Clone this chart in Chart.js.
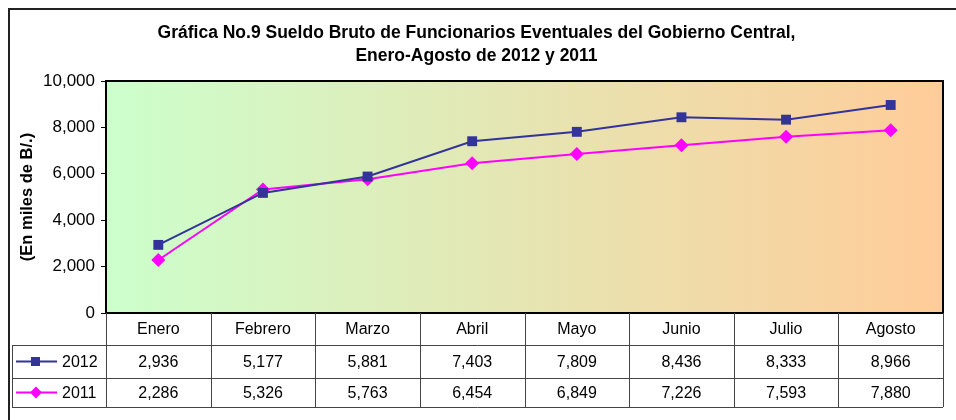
<!DOCTYPE html>
<html>
<head>
<meta charset="utf-8">
<script src="https://cdn.jsdelivr.net/npm/chart.js@4.4.1/dist/chart.umd.min.js"></script>
<style>
html,body{margin:0;padding:0;background:#fff;}
#wrap{width:956px;height:420px;position:relative;}
</style>
</head>
<body>
<div id="wrap"><canvas id="c" width="956" height="420"></canvas></div>
<script>
const categories = ['Enero','Febrero','Marzo','Abril','Mayo','Junio','Julio','Agosto'];
const values2012 = [2936,5177,5881,7403,7809,8436,8333,8966];
const values2011 = [2286,5326,5763,6454,6849,7226,7593,7880];
const seriesNames = ['2012','2011'];
const yTicks = [0,2000,4000,6000,8000,10000];
const titleLines = ['Gráfica No.9 Sueldo Bruto de Funcionarios Eventuales del Gobierno Central,','Enero-Agosto de 2012 y 2011'];
const yTitle = '(En miles de B/.)';

const FONT = "'Liberation Sans', Arial, sans-serif";
const COL2012 = '#333399';
const COL2011 = '#ff00ff';
const fmt = v => v.toLocaleString('en-US');

const framePlugin = {
  id: 'frame',
  beforeDraw(chart) {
    const ctx = chart.ctx, a = chart.chartArea;
    ctx.save();
    ctx.strokeStyle = '#222';
    ctx.lineWidth = 2;
    ctx.beginPath();
    ctx.moveTo(9, 420); ctx.lineTo(9, 9); ctx.lineTo(956, 9);
    ctx.stroke();
    const g = ctx.createLinearGradient(a.left, 0, a.right, 0);
    g.addColorStop(0, '#ccffcc');
    g.addColorStop(1, '#ffcc99');
    ctx.fillStyle = g;
    ctx.fillRect(a.left, a.top, a.right - a.left, a.bottom - a.top);
    ctx.restore();
  },
  beforeDatasetsDraw(chart) {
    const ctx = chart.ctx, a = chart.chartArea;
    ctx.save();
    ctx.strokeStyle = '#000';
    ctx.lineWidth = 2;
    ctx.strokeRect(a.left, a.top, a.right - a.left, a.bottom - a.top);
    ctx.restore();
  },
  afterDraw(chart) {
    const ctx = chart.ctx, a = chart.chartArea, xs = chart.scales.x;
    const n = categories.length;
    const w = (a.right - a.left) / n;
    const rowTop = a.bottom, r1 = 345, r2 = 378, r3 = 407, labLeft = 12;
    ctx.save();
    ctx.strokeStyle = '#444';
    ctx.lineWidth = 1;
    ctx.beginPath();
    for (let i = 0; i <= n; i++) {
      const x = Math.round(a.left + i * w) + 0.5;
      ctx.moveTo(x, rowTop); ctx.lineTo(x, r3);
    }
    ctx.moveTo(labLeft + 0.5, r1); ctx.lineTo(labLeft + 0.5, r3);
    [r1, r2, r3].forEach(y => { ctx.moveTo(labLeft, y + 0.5); ctx.lineTo(a.right, y + 0.5); });
    ctx.stroke();

    ctx.fillStyle = '#000';
    ctx.font = '16px ' + FONT;
    ctx.textAlign = 'center';
    ctx.textBaseline = 'middle';
    const yh = (rowTop + r1) / 2 + 1, y1 = (r1 + r2) / 2 + 1, y2 = (r2 + r3) / 2 + 1;
    categories.forEach((c, i) => {
      const x = xs.getPixelForValue(i);
      ctx.fillText(c, x, yh);
      ctx.fillText(fmt(values2012[i]), x, y1);
      ctx.fillText(fmt(values2011[i]), x, y2);
    });
    const keys = [[y1 - 1, COL2012, 'rect', seriesNames[0]], [y2 - 1, COL2011, 'rectRot', seriesNames[1]]];
    keys.forEach(([y, col, st, name]) => {
      ctx.strokeStyle = col; ctx.lineWidth = 2;
      ctx.beginPath(); ctx.moveTo(16, y); ctx.lineTo(57, y); ctx.stroke();
      ctx.fillStyle = col;
      ctx.beginPath();
      if (st === 'rect') { ctx.rect(31, y - 4.5, 9, 9); }
      else { ctx.moveTo(36, y - 6); ctx.lineTo(42, y); ctx.lineTo(36, y + 6); ctx.lineTo(30, y); ctx.closePath(); }
      ctx.fill();
      ctx.fillStyle = '#000';
      ctx.textAlign = 'left';
      ctx.fillText(name, 62, y + 1);
    });
    ctx.restore();
  }
};

new Chart(document.getElementById('c'), {
  type: 'line',
  data: {
    labels: categories,
    datasets: [
      { label: seriesNames[0], data: values2012, borderColor: COL2012, backgroundColor: COL2012,
        borderWidth: 2, pointStyle: 'rect', pointRadius: 7, pointBorderWidth: 0, tension: 0 },
      { label: seriesNames[1], data: values2011, borderColor: COL2011, backgroundColor: COL2011,
        borderWidth: 2, pointStyle: 'rectRot', pointRadius: 7, pointBorderWidth: 0, tension: 0 }
    ]
  },
  plugins: [framePlugin],
  options: {
    responsive: false,
    animation: false,
    events: [],
    layout: { padding: { left: 10, right: 13, top: 0, bottom: 107 } },
    plugins: {
      legend: { display: false },
      tooltip: { enabled: false },
      title: {
        display: true,
        text: titleLines,
        color: '#000',
        font: { family: FONT, size: 17.5, weight: 'bold', lineHeight: 23 / 17.5 },
        padding: { top: 21.5, bottom: 13.5 }
      }
    },
    scales: {
      x: { type: 'category', offset: true, display: false },
      y: {
        min: 0, max: 10000,
        afterFit(s) { s.width = 96; },
        afterBuildTicks(s) { s.ticks = yTicks.map(v => ({ value: v })); },
        ticks: { color: '#000', font: { family: FONT, size: 17 }, padding: 6, callback: v => fmt(v) },
        grid: { display: true, drawOnChartArea: false, drawTicks: true, tickLength: 5, color: '#000' },
        border: { display: true, color: '#000', width: 1 },
        title: { display: true, text: yTitle, color: '#000', font: { family: FONT, size: 16.5, weight: 'bold' }, padding: { top: 8, bottom: 0 } }
      }
    }
  }
});
</script>
</body>
</html>
